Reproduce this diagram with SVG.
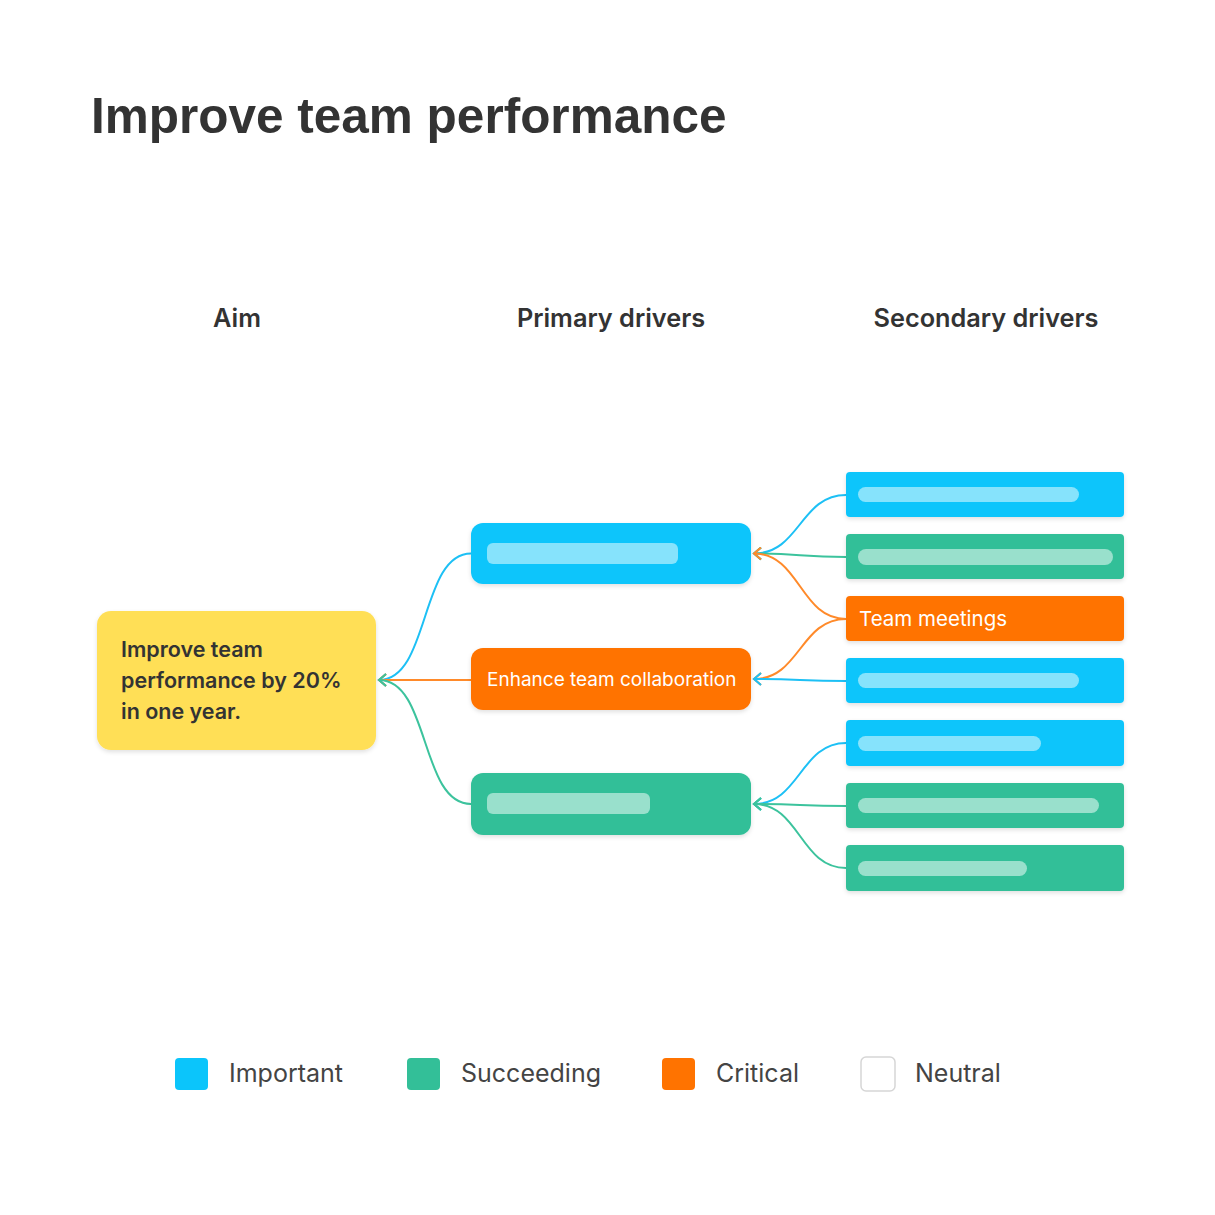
<svg xmlns="http://www.w3.org/2000/svg" width="1215" height="1215" viewBox="0 0 1215 1215">
<defs>
<style>
.title{font-family:"Liberation Sans",Arial,sans-serif;font-weight:700;font-size:49.5px;fill:#333333}
.head{font-family:Inter,"Noto Sans",sans-serif;font-weight:600;font-size:25.3px;fill:#333333;text-anchor:middle}
.aimt{font-family:Inter,"Noto Sans",sans-serif;font-weight:600;font-size:21.5px;fill:#333333}
.wt{font-family:Inter,"Noto Sans",sans-serif;font-weight:400;fill:#ffffff}
.leg{font-family:Inter,"Noto Sans",sans-serif;font-weight:400;font-size:25px;fill:#444444}
.blue{fill:#0BC5FB}
.green{fill:#33BF98}
.orange{fill:#FF7300}
.lblue{fill:#86E3FC}
.lgreen{fill:#99E0CC}
.cb{fill:none;stroke:#1DC0F5;stroke-width:2}
.cg{fill:none;stroke:#3CC39D;stroke-width:2}
.co{fill:none;stroke:#FF8A2A;stroke-width:2}
</style>
<filter id="sh" x="-10%" y="-20%" width="120%" height="150%">
<feDropShadow dx="0" dy="2" stdDeviation="2" flood-color="#000000" flood-opacity="0.12"/>
</filter>
<marker id="ab" markerWidth="12" markerHeight="14" refX="10" refY="7" orient="auto" markerUnits="userSpaceOnUse">
<path d="M3,1 L10,7 L3,13" fill="none" stroke="#1DC0F5" stroke-width="2"/>
</marker>
<marker id="ag" markerWidth="12" markerHeight="14" refX="10" refY="7" orient="auto" markerUnits="userSpaceOnUse">
<path d="M3,1 L10,7 L3,13" fill="none" stroke="#3CC39D" stroke-width="2"/>
</marker>
<marker id="ao" markerWidth="12" markerHeight="14" refX="10" refY="7" orient="auto" markerUnits="userSpaceOnUse">
<path d="M3,1 L10,7 L3,13" fill="none" stroke="#FF8A2A" stroke-width="2"/>
</marker>
</defs>
<rect width="1215" height="1215" fill="#ffffff"/>
<text class="title" x="91" y="133">Improve team performance</text>
<text class="head" x="237" y="327">Aim</text>
<text class="head" x="611" y="327">Primary drivers</text>
<text class="head" x="986" y="327">Secondary drivers</text>

<g id="connectors">
<path class="cb" d="M471,553.5 C420,553.5 430,680 379,680" marker-end="url(#ab)"/>
<path class="co" d="M471,680 L379,680" marker-end="url(#ao)"/>
<path class="cg" d="M471,804 C420,804 430,680 379,680" marker-end="url(#ag)"/>
<path class="cb" d="M846,495 C800,495 800,553.5 754,553.5" marker-end="url(#ab)"/>
<path class="cg" d="M846,557 C800,557 800,553.5 754,553.5" marker-end="url(#ag)"/>
<path class="co" d="M846,619 C800,619 800,553.5 754,553.5" marker-end="url(#ao)"/>
<path class="co" d="M846,619 C800,619 800,679 754,679" marker-end="url(#ao)"/>
<path class="cb" d="M846,681 C800,681 800,679 754,679" marker-end="url(#ab)"/>
<path class="cb" d="M846,743 C800,743 800,804 754,804" marker-end="url(#ab)"/>
<path class="cg" d="M846,806 C800,806 800,804 754,804" marker-end="url(#ag)"/>
<path class="cg" d="M846,868 C800,868 800,804 754,804" marker-end="url(#ag)"/>
</g>

<g id="aim">
<rect x="97" y="611" width="279" height="139" rx="14" fill="#FFDF57" filter="url(#sh)"/>
<text class="aimt" x="121" y="657">Improve team</text>
<text class="aimt" x="121" y="688">performance by 20%</text>
<text class="aimt" x="121" y="719">in one year.</text>
</g>

<g id="primary1">
<rect class="blue" x="471" y="523" width="280" height="61" rx="12" filter="url(#sh)"/>
<rect class="lblue" x="487" y="543" width="191" height="21" rx="6"/>
</g>
<g id="primary2">
<rect class="orange" x="471" y="648" width="280" height="62" rx="12" filter="url(#sh)"/>
<text class="wt" x="487" y="685.5" font-size="19">Enhance team collaboration</text>
</g>
<g id="primary3">
<rect class="green" x="471" y="773" width="280" height="62" rx="12" filter="url(#sh)"/>
<rect class="lgreen" x="487" y="793" width="163" height="21" rx="6"/>
</g>

<g id="secondary1">
<rect class="blue" x="846" y="472" width="278" height="45" rx="4" filter="url(#sh)"/>
<rect class="lblue" x="858" y="487" width="221" height="15" rx="7.5"/>
</g>
<g id="secondary2">
<rect class="green" x="846" y="534" width="278" height="45" rx="4" filter="url(#sh)"/>
<rect class="lgreen" x="858" y="549" width="255" height="16" rx="8"/>
</g>
<g id="secondary3">
<rect class="orange" x="846" y="596" width="278" height="45" rx="4" filter="url(#sh)"/>
<text class="wt" x="859" y="626" font-size="20.5">Team meetings</text>
</g>
<g id="secondary4">
<rect class="blue" x="846" y="658" width="278" height="45" rx="4" filter="url(#sh)"/>
<rect class="lblue" x="858" y="673" width="221" height="15" rx="7.5"/>
</g>
<g id="secondary5">
<rect class="blue" x="846" y="720" width="278" height="46" rx="4" filter="url(#sh)"/>
<rect class="lblue" x="858" y="736" width="183" height="15" rx="7.5"/>
</g>
<g id="secondary6">
<rect class="green" x="846" y="783" width="278" height="45" rx="4" filter="url(#sh)"/>
<rect class="lgreen" x="858" y="798" width="241" height="15" rx="7.5"/>
</g>
<g id="secondary7">
<rect class="green" x="846" y="845" width="278" height="46" rx="4" filter="url(#sh)"/>
<rect class="lgreen" x="858" y="861" width="169" height="15" rx="7.5"/>
</g>

<g id="legend">
<rect class="blue" x="175" y="1058" width="33" height="32" rx="4"/>
<text class="leg" x="229" y="1082">Important</text>
<rect class="green" x="407" y="1058" width="33" height="32" rx="4"/>
<text class="leg" x="461" y="1082">Succeeding</text>
<rect class="orange" x="662" y="1058" width="33" height="32" rx="4"/>
<text class="leg" x="716" y="1082">Critical</text>
<rect x="861" y="1057" width="34" height="34" rx="5" fill="#ffffff" stroke="#D6D6D6" stroke-width="1.5"/>
<text class="leg" x="915" y="1082">Neutral</text>
</g>
</svg>
